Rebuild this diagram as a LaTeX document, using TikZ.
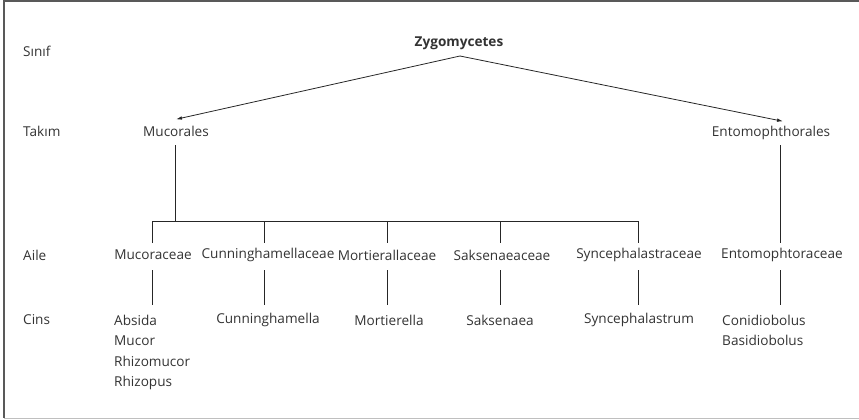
\documentclass[tikz,border=0pt]{standalone}
\usepackage{fontspec}
\setmainfont{Open Sans}
\usetikzlibrary{positioning,arrows.meta}

\begin{document}
\begin{tikzpicture}[
  x=1pt, y=-1pt,
  font=\fontsize{13.6}{20.3}\selectfont,
  rank/.style={anchor=west, text=black!80, inner sep=0pt},
  taxon/.style={text=black!80, inner sep=0pt, minimum height=23pt},
  gen/.style={text=black!80, inner sep=0pt, align=left},
  ln/.style={black!85, line width=0.8pt},
  arr/.style={-{Latex[length=6pt,width=3.6pt]}, black!85, line width=0.8pt}
]
\useasboundingbox (0,0) rectangle (859,420);
% frame
\draw[black!65, line width=2pt] (859,1.5) -- (4,1.5) -- (4,418);
\draw[black!25, line width=1.5pt] (4,418.5) -- (859,418.5);

% ranks
\node[rank] (sinif) at (23,51) {Sınıf};
\node[rank] (takim) at (23,131) {Takım};
\node[rank] (aile) at (23,255) {Aile};
\node[rank] (cins) at (23,320) {Cins};

% class and orders
\node[taxon, font=\fontsize{13.6}{16}\selectfont\bfseries] (zyg) at (459,43) {Zygomycetes};
\node[taxon] (muc) at (176,131) {Mucorales};
\node[taxon] (ent) at (771,133) {Entomophthorales};
\coordinate (top) at (460,56);
\draw[arr] (top) -- (muc.north);
\draw[arr] (top) -- ([xshift=12pt]ent.north);

% families
\node[taxon] (a1) at (153,255) {Mucoraceae};
\node[taxon] (a2) at (268,255) {Cunninghamellaceae};
\node[taxon] (a3) at (387,255) {Mortierallaceae};
\node[taxon] (a4) at (502,255) {Saksenaeaceae};
\node[taxon] (a5) at (639,255) {Syncephalastraceae};
\node[taxon] (a6) at (782,255) {Entomophtoraceae};

\coordinate (barl) at (152,221);
\coordinate (barr) at (638,221);
\draw[ln] (175,145) coordinate (mucb) -- (mucb |- barl);
\draw[ln] (barl |- 0,243) -- (barl) -- (barr) -- (barr |- 0,243);
\foreach \x in {264, 387, 500}
  \draw[ln] (\x,221) -- (\x,243);
\draw[ln] (780,145) -- (780,243);

% genera
\node[gen, anchor=north west] (g1) at (114,315) {Absida\\Mucor\\Rhizomucor\\Rhizopus};
\node[taxon] (g2) at (268,320) {Cunninghamella};
\node[taxon] (g3) at (389,320) {Mortierella};
\node[taxon] (g4) at (500,320) {Saksenaea};
\node[taxon] (g5) at (639,320) {Syncephalastrum};
\node[gen, anchor=north west] (g6) at (722,315) {Conidiobolus\\Basidiobolus};

\foreach \x in {152, 264, 387, 500, 638, 780}
  \draw[ln] (\x,270) -- (\x,305);
\end{tikzpicture}
\end{document}
